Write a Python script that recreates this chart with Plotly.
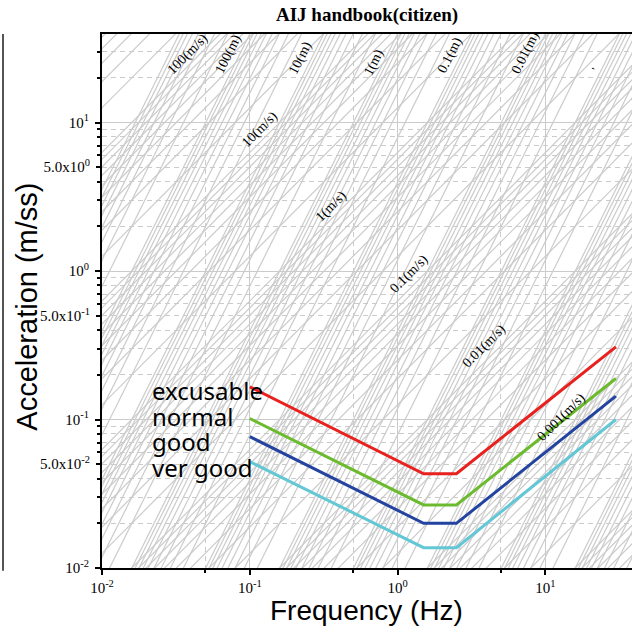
import math
import plotly.graph_objects as go

# ---------------- data ----------------
freq_pts = [0.1, 1.5, 2.5, 30.0]
excusable = [0.166, 0.0431, 0.0431, 0.308]
normal = [0.1016, 0.0266, 0.0266, 0.189]
good = [0.0766, 0.0200, 0.0200, 0.1436]
very_good = [0.052, 0.0137, 0.0137, 0.100]

series_names = ["excusable", "normal", "good", "ver good"]
series_colors = ["#e8201e", "#6cbb2f", "#2343a0", "#63c7d6"]

# tripartite reference levels (multipliers x decades)
multipliers = [1, 2, 3, 4, 5, 6, 7, 8, 9]
vel_decades = [-5, -4, -3, -2, -1, 0, 1, 2]
disp_decades = [-7, -6, -5, -4, -3, -2, -1, 0, 1, 2]

vel_labels = ["100(m/s)", "10(m/s)", "1(m/s)", "0.1(m/s)", "0.01(m/s)", "0.001(m/s)"]
disp_labels = ["100(m)", "10(m)", "1(m)", "0.1(m)", "0.01(m)"]

x_tick_vals = [0.01, 0.1, 1, 10]
x_tick_text = ["10<sup>-2</sup>", "10<sup>-1</sup>", "10<sup>0</sup>", "10<sup>1</sup>"]
y_tick_vals = [0.01, 0.1, 1, 10]
y_tick_text = ["10<sup>-2</sup>", "10<sup>-1</sup>", "10<sup>0</sup>", "10<sup>1</sup>"]
y5_tick_vals = [0.05, 0.5, 5]
y5_tick_text = ["5.0x10<sup>-2</sup>", "5.0x10<sup>-1</sup>", "5.0x10<sup>0</sup>"]

# ---------------- layout constants ----------------
W, H = 632, 629
ML, MR, MT, MB = 102, 0, 34, 61
PW, PH = W - ML - MR, H - MT - MB
XR = [-2, 1.586]
YR = [-2, 1.596]

GRAY = "rgb(203,203,203)"

def px_to_paper(px, py):
    return (px - ML) / PW, (H - MB - py) / PH

fig = go.Figure()

# gray tripartite lines
f_ends = [0.003, 200.0]
xs, ys = [], []
for n in vel_decades:
    for k in multipliers:
        v = k * 10 ** n
        for f in f_ends:
            xs.append(f)
            ys.append(2 * math.pi * f * v)
        xs.append(None)
        ys.append(None)
for n in disp_decades:
    for k in multipliers:
        d = k * 10 ** n
        for f in f_ends:
            xs.append(f)
            ys.append((2 * math.pi * f) ** 2 * d)
        xs.append(None)
        ys.append(None)
fig.add_trace(go.Scatter(x=xs, y=ys, mode="lines", line=dict(color=GRAY, width=1.2),
                         hoverinfo="skip", showlegend=False, connectgaps=False))

for name, vals, col in zip(series_names, [excusable, normal, good, very_good], series_colors):
    fig.add_trace(go.Scatter(x=freq_pts, y=vals, mode="lines", name=name,
                             line=dict(color=col, width=3), showlegend=False))

# dummy trace for secondary y-axis (5.0x labels)
fig.add_trace(go.Scatter(x=[0.1], y=[0.1], yaxis="y2", mode="markers",
                         marker=dict(opacity=0), hoverinfo="skip", showlegend=False))

tickfont = dict(family="Liberation Serif", size=15, color="black")

fig.update_layout(
    width=W, height=H,
    margin=dict(l=ML, r=MR, t=MT, b=MB),
    paper_bgcolor="white", plot_bgcolor="white",
    showlegend=False,
    xaxis=dict(type="log", range=XR, showline=True, linecolor="black", linewidth=2,
               mirror=True, ticks="outside", ticklen=5, tickwidth=1.5, tickcolor="black",
               tickvals=x_tick_vals, ticktext=x_tick_text, tickfont=tickfont,
               showgrid=True, gridcolor=GRAY, gridwidth=1, zeroline=False,
               minor=dict(tickvals=[0.05, 0.5, 5], ticks="outside", ticklen=3,
                          tickcolor="black", showgrid=True, gridcolor=GRAY,
                          griddash="5px,4px", gridwidth=1)),
    yaxis=dict(type="log", range=YR, showline=True, linecolor="black", linewidth=2,
               ticks="outside", ticklen=5, tickwidth=1.5, tickcolor="black",
               tickvals=y_tick_vals, ticktext=y_tick_text, tickfont=tickfont,
               ticklabelstandoff=3,
               showgrid=True, gridcolor=GRAY, gridwidth=1, zeroline=False,
               minor=dict(tickvals=[m * 10 ** e for e in [-2, -1, 0, 1] for m in range(2, 10)],
                          ticks="outside", ticklen=3, tickcolor="black",
                          showgrid=True, gridcolor=GRAY, griddash="5px,4px", gridwidth=1)),
    yaxis2=dict(type="log", range=YR, overlaying="y", side="left", anchor="x",
                showgrid=False, showline=False, zeroline=False,
                ticks="outside", ticklen=5, tickwidth=1.5, tickcolor="black",
                ticklabelstandoff=3,
                tickvals=y5_tick_vals, ticktext=y5_tick_text, tickfont=tickfont),
)

ann = []
# line labels
vel_pos = [(-1.4195, 1.464), (-0.929, 0.955), (-0.444, 0.435), (0.079, -0.023),
           (0.587, -0.505), (1.112, -0.986)]
disp_pos = [(-1.143, 1.459), (-0.658, 1.436), (-0.158, 1.407), (0.356, 1.454), (0.864, 1.469)]
for t, (lx, ly) in zip(vel_labels, vel_pos):
    ann.append(dict(x=lx, y=ly, xref="x", yref="y", text=t, showarrow=False,
                    textangle=-45, font=dict(family="Liberation Serif", size=14, color="black")))
for t, (lx, ly) in zip(disp_labels, disp_pos):
    ann.append(dict(x=lx, y=ly, xref="x", yref="y", text=t, showarrow=False,
                    textangle=-63.4, font=dict(family="Liberation Serif", size=14, color="black")))
# small clipped label fragment near top right
cx, cy = px_to_paper(598, 60)
ann.append(dict(x=cx, y=cy, xref="paper", yref="paper", text=",", showarrow=False,
                textangle=-63.4, font=dict(family="Liberation Serif", size=11, color="black")))

# series text labels
text_y_px = [390, 416, 441, 467]
for t, py in zip(series_names, text_y_px):
    px, yy = px_to_paper(150, py)
    ann.append(dict(x=px, y=yy, xref="paper", yref="paper", text=t, showarrow=False,
                    xanchor="left", yanchor="middle",
                    font=dict(family="Noto Sans", size=24, color="black")))

# titles
tx, ty = px_to_paper(366.7, 15)
ann.append(dict(x=tx, y=ty, xref="paper", yref="paper", text="<b>AIJ handbook(citizen)</b>",
                showarrow=False, xanchor="center", yanchor="middle",
                font=dict(family="Liberation Serif", size=19, color="black")))
fx, fy = px_to_paper(366.7, 610)
ann.append(dict(x=fx, y=fy, xref="paper", yref="paper", text="Frequency (Hz)",
                showarrow=False, xanchor="center", yanchor="middle",
                font=dict(family="Liberation Sans", size=28, color="black")))
ax_, ay_ = px_to_paper(27, 306.7)
ann.append(dict(x=ax_, y=ay_, xref="paper", yref="paper", text="Acceleration (m/ss)",
                showarrow=False, xanchor="center", yanchor="middle", textangle=-90,
                font=dict(family="Liberation Sans", size=29, color="black")))
fig.update_layout(annotations=ann)

# neighbouring panel edge at far left
lx0, _ = px_to_paper(3, 0)
fig.add_shape(type="line", xref="paper", yref="paper", x0=lx0, x1=lx0, y0=-0.005, y1=1,
              line=dict(color="#555555", width=2))

fig.write_html("out.html", config={"displayModeBar": False},
               post_script="document.body.style.margin='0';document.body.style.overflow='hidden';")
